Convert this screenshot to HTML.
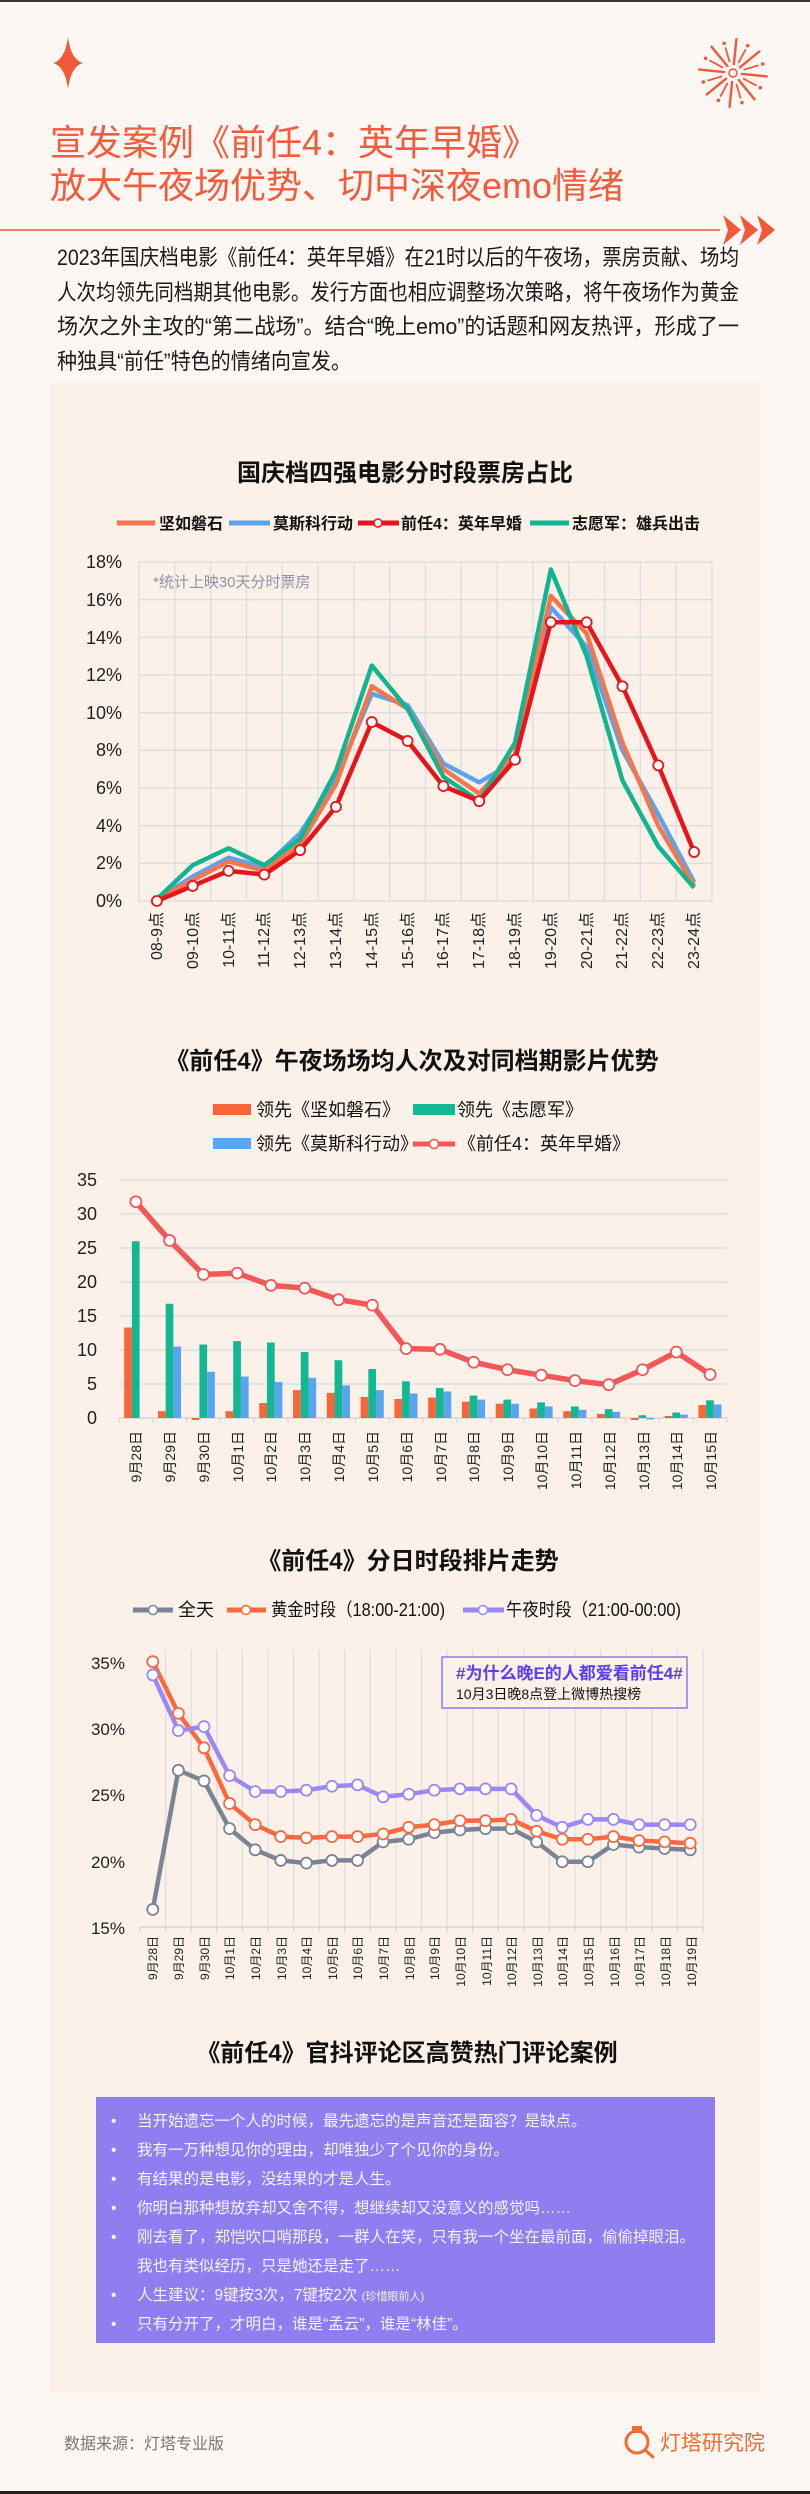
<!DOCTYPE html>
<html><head><meta charset="utf-8">
<style>
html,body{margin:0;padding:0}
body{width:810px;height:2494px;background:#fcf7f2;overflow:hidden;font-family:"Liberation Sans","Noto Sans CJK SC",sans-serif}
svg{display:block}
</style></head>
<body>
<svg id="s" width="810" height="2494" viewBox="0 0 810 2494" xmlns="http://www.w3.org/2000/svg" font-family="Liberation Sans, Noto Sans CJK SC, sans-serif">
<rect x="0" y="0" width="810" height="2494" fill="#fcf7f2"/>
<rect x="0" y="0" width="810" height="2" fill="#333"/>
<rect x="0" y="2491" width="810" height="3" fill="#222"/>
<path d="M68 37 Q71 60 83 63 Q71 66 68 89 Q65 66 53 63 Q65 60 68 37Z" fill="#f4583a"/>
<g id="fw" stroke="#f4583a" stroke-linecap="round" fill="#f4583a"></g>
<text x="50" y="155" font-size="36" fill="#f45a3c">宣发案例《前任4：英年早婚》</text>
<text x="50" y="198" font-size="36" fill="#f45a3c">放大午夜场优势、切中深夜emo情绪</text>
<rect x="0" y="229" width="720" height="2" fill="#f47c5c"/>
<g fill="#f4583a">
<path d="M723 215 L741 230 L723 245 L728 230Z"/>
<path d="M740 215 L758 230 L740 245 L745 230Z"/>
<path d="M757 215 L775 230 L757 245 L762 230Z"/>
</g>
<g font-size="22" fill="#1a1a1a">
<text x="57" y="265" textLength="682" lengthAdjust="spacingAndGlyphs">2023年国庆档电影《前任4：英年早婚》在21时以后的午夜场，票房贡献、场均</text>
<text x="57" y="300" textLength="682" lengthAdjust="spacingAndGlyphs">人次均领先同档期其他电影。发行方面也相应调整场次策略，将午夜场作为黄金</text>
<text x="57" y="334" textLength="682" lengthAdjust="spacingAndGlyphs">场次之外主攻的“第二战场”。结合“晚上emo”的话题和网友热评，形成了一</text>
<text x="57" y="369" textLength="294" lengthAdjust="spacingAndGlyphs">种独具“前任”特色的情绪向宣发。</text>
</g>
<rect x="50" y="382" width="710" height="2011" fill="#fbf1e8"/>

<text x="405" y="481" font-size="24" font-weight="bold" text-anchor="middle" fill="#111">国庆档四强电影分时段票房占比</text>
<g font-size="16" font-weight="bold" fill="#111">
<line x1="117" y1="523" x2="155" y2="523" stroke="#f4764d" stroke-width="5"/><text x="159" y="529">坚如磐石</text>
<line x1="229" y1="523" x2="270" y2="523" stroke="#5ba4ec" stroke-width="5"/><text x="273" y="529">莫斯科行动</text>
<line x1="358" y1="523" x2="399" y2="523" stroke="#e8141b" stroke-width="5"/><circle cx="378" cy="523" r="4" fill="#fff" stroke="#e8141b" stroke-width="1.5"/><text x="401" y="529">前任4：英年早婚</text>
<line x1="530" y1="523" x2="569" y2="523" stroke="#13b491" stroke-width="5"/><text x="572" y="529">志愿军：雄兵出击</text>
</g>
<g id="c1grid" stroke="#dddde0" stroke-width="1.3"></g>
<g font-size="18" fill="#222" text-anchor="end">
<text x="122" y="568">18%</text><text x="122" y="606">16%</text><text x="122" y="644">14%</text><text x="122" y="681">12%</text><text x="122" y="719">10%</text><text x="122" y="756">8%</text><text x="122" y="794">6%</text><text x="122" y="832">4%</text><text x="122" y="869">2%</text><text x="122" y="907">0%</text>
</g>
<text x="153" y="587" font-size="15" fill="#8a93a6">*统计上映30天分时票房</text>
<g id="c1" fill="none" stroke-linejoin="round"></g>
<g font-size="16" fill="#222" text-anchor="end">
<text transform="translate(162,912) rotate(-90)">08-9点</text>
<text transform="translate(198,912) rotate(-90)">09-10点</text>
<text transform="translate(234,912) rotate(-90)">10-11点</text>
<text transform="translate(269,912) rotate(-90)">11-12点</text>
<text transform="translate(305,912) rotate(-90)">12-13点</text>
<text transform="translate(341,912) rotate(-90)">13-14点</text>
<text transform="translate(377,912) rotate(-90)">14-15点</text>
<text transform="translate(413,912) rotate(-90)">15-16点</text>
<text transform="translate(448,912) rotate(-90)">16-17点</text>
<text transform="translate(484,912) rotate(-90)">17-18点</text>
<text transform="translate(520,912) rotate(-90)">18-19点</text>
<text transform="translate(556,912) rotate(-90)">19-20点</text>
<text transform="translate(592,912) rotate(-90)">20-21点</text>
<text transform="translate(627,912) rotate(-90)">21-22点</text>
<text transform="translate(663,912) rotate(-90)">22-23点</text>
<text transform="translate(699,912) rotate(-90)">23-24点</text>
</g>

<text x="412" y="1069" font-size="24" font-weight="bold" text-anchor="middle" fill="#111">《前任4》午夜场场均人次及对同档期影片优势</text>
<g font-size="18" fill="#111">
<rect x="213" y="1104" width="38" height="11" fill="#f8653b"/><text x="256" y="1116">领先《坚如磐石》</text>
<rect x="413" y="1104" width="42" height="11" fill="#11b892"/><text x="457" y="1116">领先《志愿军》</text>
<rect x="213" y="1138" width="38" height="11" fill="#5aa6ee"/><text x="256" y="1150">领先《莫斯科行动》</text>
<line x1="413" y1="1144" x2="455" y2="1144" stroke="#f45757" stroke-width="5"/><circle cx="434" cy="1144" r="4.5" fill="#fff" stroke="#f45757" stroke-width="1.5"/><text x="458" y="1150">《前任4：英年早婚》</text>
</g>
<g id="c2grid"></g>
<g font-size="18" fill="#222" text-anchor="end">
<text x="97" y="1186">35</text><text x="97" y="1220">30</text><text x="97" y="1254">25</text><text x="97" y="1288">20</text><text x="97" y="1322">15</text><text x="97" y="1356">10</text><text x="97" y="1390">5</text><text x="97" y="1424">0</text>
</g>
<g id="c2"></g>
<g font-size="14" fill="#222" text-anchor="end">
<text transform="translate(141,1431) rotate(-90)">9月28日</text>
<text transform="translate(175,1431) rotate(-90)">9月29日</text>
<text transform="translate(209,1431) rotate(-90)">9月30日</text>
<text transform="translate(243,1431) rotate(-90)">10月1日</text>
<text transform="translate(276,1431) rotate(-90)">10月2日</text>
<text transform="translate(310,1431) rotate(-90)">10月3日</text>
<text transform="translate(344,1431) rotate(-90)">10月4日</text>
<text transform="translate(378,1431) rotate(-90)">10月5日</text>
<text transform="translate(412,1431) rotate(-90)">10月6日</text>
<text transform="translate(446,1431) rotate(-90)">10月7日</text>
<text transform="translate(479,1431) rotate(-90)">10月8日</text>
<text transform="translate(513,1431) rotate(-90)">10月9日</text>
<text transform="translate(547,1431) rotate(-90)">10月10日</text>
<text transform="translate(581,1431) rotate(-90)">10月11日</text>
<text transform="translate(615,1431) rotate(-90)">10月12日</text>
<text transform="translate(649,1431) rotate(-90)">10月13日</text>
<text transform="translate(682,1431) rotate(-90)">10月14日</text>
<text transform="translate(716,1431) rotate(-90)">10月15日</text>
</g>

<text x="408" y="1569" font-size="24" font-weight="bold" text-anchor="middle" fill="#111">《前任4》分日时段排片走势</text>
<g font-size="18" fill="#111">
<line x1="133" y1="1610" x2="173" y2="1610" stroke="#7b8494" stroke-width="5"/><circle cx="153" cy="1610" r="4.5" fill="#fff" stroke="#7b8494" stroke-width="1.5"/><text x="178" y="1616">全天</text>
<line x1="227" y1="1610" x2="266" y2="1610" stroke="#fb6a3f" stroke-width="5"/><circle cx="246" cy="1610" r="4.5" fill="#fff" stroke="#fb6a3f" stroke-width="1.5"/><text x="271" y="1616" textLength="174" lengthAdjust="spacingAndGlyphs">黄金时段（18:00-21:00)</text>
<line x1="463" y1="1610" x2="504" y2="1610" stroke="#9b88f5" stroke-width="5"/><circle cx="483" cy="1610" r="4.5" fill="#fff" stroke="#9b88f5" stroke-width="1.5"/><text x="506" y="1616" textLength="175" lengthAdjust="spacingAndGlyphs">午夜时段（21:00-00:00)</text>
</g>
<g id="c3grid"></g>
<g font-size="17" fill="#222" text-anchor="end">
<text x="125" y="1669">35%</text><text x="125" y="1735">30%</text><text x="125" y="1801">25%</text><text x="125" y="1868">20%</text><text x="125" y="1934">15%</text>
</g>
<rect x="442" y="1657" width="245" height="51" fill="#fbf1e8" stroke="#8a7cf0" stroke-width="1.5"/>
<text x="456" y="1679" font-size="17" font-weight="bold" fill="#5b3ef0">#为什么晚E的人都爱看前任4#</text>
<text x="456" y="1699" font-size="14" fill="#111">10月3日晚8点登上微博热搜榜</text>
<g id="c3"></g>
<g font-size="12" fill="#222" text-anchor="end">
<text transform="translate(157,1936) rotate(-90)">9月28日</text>
<text transform="translate(183,1936) rotate(-90)">9月29日</text>
<text transform="translate(209,1936) rotate(-90)">9月30日</text>
<text transform="translate(234,1936) rotate(-90)">10月1日</text>
<text transform="translate(260,1936) rotate(-90)">10月2日</text>
<text transform="translate(286,1936) rotate(-90)">10月3日</text>
<text transform="translate(311,1936) rotate(-90)">10月4日</text>
<text transform="translate(337,1936) rotate(-90)">10月5日</text>
<text transform="translate(362,1936) rotate(-90)">10月6日</text>
<text transform="translate(388,1936) rotate(-90)">10月7日</text>
<text transform="translate(414,1936) rotate(-90)">10月8日</text>
<text transform="translate(439,1936) rotate(-90)">10月9日</text>
<text transform="translate(465,1936) rotate(-90)">10月10日</text>
<text transform="translate(491,1936) rotate(-90)">10月11日</text>
<text transform="translate(516,1936) rotate(-90)">10月12日</text>
<text transform="translate(542,1936) rotate(-90)">10月13日</text>
<text transform="translate(567,1936) rotate(-90)">10月14日</text>
<text transform="translate(593,1936) rotate(-90)">10月15日</text>
<text transform="translate(619,1936) rotate(-90)">10月16日</text>
<text transform="translate(644,1936) rotate(-90)">10月17日</text>
<text transform="translate(670,1936) rotate(-90)">10月18日</text>
<text transform="translate(696,1936) rotate(-90)">10月19日</text>
</g>

<text x="407" y="2061" font-size="24" font-weight="bold" text-anchor="middle" fill="#111">《前任4》官抖评论区高赞热门评论案例</text>
<rect x="96" y="2097" width="619" height="246" fill="#8f7ef0"/>
<g font-size="15.5" fill="#f6f3ff">
<text x="111" y="2126">•</text><text x="137" y="2126">当开始遗忘一个人的时候，最先遗忘的是声音还是面容？是缺点。</text>
<text x="111" y="2155">•</text><text x="137" y="2155">我有一万种想见你的理由，却唯独少了个见你的身份。</text>
<text x="111" y="2184">•</text><text x="137" y="2184">有结果的是电影，没结果的才是人生。</text>
<text x="111" y="2213">•</text><text x="137" y="2213">你明白那种想放弃却又舍不得，想继续却又没意义的感觉吗……</text>
<text x="111" y="2242">•</text><text x="137" y="2242">刚去看了，郑恺吹口哨那段，一群人在笑，只有我一个坐在最前面，偷偷掉眼泪。</text>
<text x="137" y="2271">我也有类似经历，只是她还是走了……</text>
<text x="111" y="2300">•</text><text x="137" y="2300">人生建议：9键按3次，7键按2次 <tspan font-size="11">(珍惜眼前人)</tspan></text>
<text x="111" y="2329">•</text><text x="137" y="2329">只有分开了，才明白，谁是“孟云”，谁是“林佳”。</text>
</g>

<text x="64" y="2449" font-size="16" fill="#777">数据来源：灯塔专业版</text>
<g fill="none" stroke="#f26b2f" stroke-width="3">
<circle cx="637" cy="2442" r="11"/>
<line x1="645" y1="2450" x2="653" y2="2457" stroke-linecap="round"/>
</g>
<rect x="632" y="2426" width="10" height="7" fill="#f26b2f"/>
<text x="660" y="2450" font-size="21" fill="#f26b2f">灯塔研究院</text>
</svg>
<script>
(function(){
var NS="http://www.w3.org/2000/svg";
function el(p,t,a){var e=document.createElementNS(NS,t);for(var k in a)e.setAttribute(k,a[k]);p.appendChild(e);return e;}
var fw=document.getElementById('fw');var cx=733,cy=73;
for(var i=0;i<16;i++){var a=i*Math.PI/8+0.1;var r1=(i%2?12:9),r2=(i%2?26:34);
el(fw,'line',{x1:cx+r1*Math.cos(a),y1:cy+r1*Math.sin(a),x2:cx+r2*Math.cos(a),y2:cy+r2*Math.sin(a),'stroke-width':i%2?1.8:2.4});
if(i%2){el(fw,'circle',{cx:cx+31*Math.cos(a),cy:cy+31*Math.sin(a),r:1.8,stroke:'none'});}}
el(fw,'circle',{cx:cx,cy:cy,r:4,fill:'none','stroke-width':1.5});
var g=document.getElementById('c1grid');
var L=139,R=712,T=562,B=901,n=16,w=(R-L)/n;
for(var i=0;i<=n;i++)el(g,'line',{x1:L+i*w,y1:T,x2:L+i*w,y2:B});
for(var k=0;k<=9;k++){var y=B-k*(B-T)/9;el(g,'line',{x1:L,y1:y,x2:R,y2:y});}
function y1(v){return B-v*(B-T)/18;}
var S=[
['#5ba4ec',[0.1,1.3,2.3,1.8,3.6,6.5,11.0,10.4,7.3,6.3,7.4,15.6,13.5,8.0,4.6,1.0]],
['#f4764d',[0.1,1.1,2.1,1.6,3.0,6.2,11.4,10.2,7.0,5.7,7.8,16.2,14.2,8.4,4.0,0.8]],
['#13b491',[0.1,1.9,2.8,1.9,3.3,6.9,12.5,10.2,6.6,5.3,8.4,17.6,13.0,6.4,2.9,0.7]],
['#e8141b',[0,0.8,1.6,1.4,2.7,5.0,9.5,8.5,6.1,5.3,7.5,14.8,14.8,11.4,7.2,2.6],1]];
var c1=document.getElementById('c1');
S.forEach(function(s){var d='';s[1].forEach(function(v,i){d+=(i?'L':'M')+(L+w*(i+.5))+' '+y1(v);});
el(c1,'path',{d:d,stroke:s[0],'stroke-width':4.5});
if(s[2])s[1].forEach(function(v,i){el(c1,'circle',{cx:L+w*(i+.5),cy:y1(v),r:5,fill:'#fff',stroke:s[0],'stroke-width':1.8});});});
g=document.getElementById('c2grid');L=119;R=727;B=1418;n=18;w=(R-L)/n;var u=6.8;
for(var k=1;k<=7;k++){var y=B-k*5*u;el(g,'line',{x1:L,y1:y,x2:R,y2:y,stroke:'#dedee2','stroke-width':1.5});}
el(g,'line',{x1:L,y1:B,x2:R,y2:B,stroke:'#d6d6da','stroke-width':1.5});
for(var i=0;i<=n;i++)el(g,'line',{x1:L+i*w,y1:B,x2:L+i*w,y2:B+5,stroke:'#d6d6da','stroke-width':1.2});
var c2=document.getElementById('c2');
var O=[13.3,1.0,-0.3,1.0,2.2,4.1,3.7,3.1,2.8,3.0,2.4,2.1,1.4,1.0,0.6,-0.3,0.3,1.9];
var G=[26.0,16.8,10.8,11.3,11.1,9.7,8.5,7.2,5.4,4.4,3.3,2.7,2.3,1.7,1.3,0.4,0.8,2.6];
var Bl=[0,10.5,6.8,6.1,5.3,5.9,4.8,4.1,3.6,3.9,2.7,2.1,1.7,1.2,0.9,-0.2,0.5,2.0];
var Ln=[31.8,26.1,21.1,21.3,19.5,19.1,17.4,16.6,10.2,10.1,8.2,7.1,6.3,5.5,4.9,7.1,9.7,6.4];
function bar(x,v,c){var y=v>=0?B-v*u:B;el(c2,'rect',{x:x,y:y,width:7.7,height:Math.abs(v)*u,fill:c});}
for(var i=0;i<n;i++){var c=L+w*(i+.5);bar(c-11.7,O[i],'#f8653b');bar(c-4,G[i],'#11b892');bar(c+3.7,Bl[i],'#5aa6ee');}
var d='';Ln.forEach(function(v,i){d+=(i?'L':'M')+(L+w*(i+.5))+' '+(B-v*u);});
el(c2,'path',{d:d,fill:'none',stroke:'#f45757','stroke-width':5.5,'stroke-linejoin':'round'});
Ln.forEach(function(v,i){el(c2,'circle',{cx:L+w*(i+.5),cy:B-v*u,r:5.5,fill:'#fff',stroke:'#f45757','stroke-width':1.8});});
g=document.getElementById('c3grid');L=140;R=703;B=1927;n=22;w=(R-L)/n;T=1650;
for(var i=1;i<=n;i++)el(g,'line',{x1:L+i*w,y1:T,x2:L+i*w,y2:B,stroke:'#dedee2','stroke-width':1.3});
el(g,'line',{x1:L,y1:B,x2:R,y2:B,stroke:'#d6d6da','stroke-width':1.5});
for(var i=0;i<=n;i++)el(g,'line',{x1:L+i*w,y1:B,x2:L+i*w,y2:B+5,stroke:'#d6d6da','stroke-width':1.2});
function y3(v){return 1663+(35-v)*13.25;}
var S3=[
['#7b8494',[16.4,26.9,26.1,22.5,20.9,20.1,19.9,20.1,20.1,21.5,21.7,22.2,22.4,22.5,22.5,21.5,20.0,20.0,21.3,21.1,21.0,20.9]],
['#fb6a3f',[35.1,31.2,28.6,24.4,22.8,21.9,21.8,21.9,21.9,22.1,22.6,22.8,23.1,23.1,23.2,22.3,21.7,21.7,21.9,21.6,21.5,21.4]],
['#9b88f5',[34.1,29.9,30.2,26.5,25.3,25.3,25.4,25.7,25.8,24.9,25.1,25.4,25.5,25.5,25.5,23.5,22.6,23.2,23.2,22.8,22.8,22.8]]];
var c3=document.getElementById('c3');
S3.forEach(function(s){var d='';s[1].forEach(function(v,i){d+=(i?'L':'M')+(L+w*(i+.5))+' '+y3(v);});
el(c3,'path',{d:d,fill:'none',stroke:s[0],'stroke-width':4.5,'stroke-linejoin':'round'});});
S3.forEach(function(s){s[1].forEach(function(v,i){el(c3,'circle',{cx:L+w*(i+.5),cy:y3(v),r:5.5,fill:'#fff',stroke:s[0],'stroke-width':1.8});});});
})();
</script>
</body></html>
